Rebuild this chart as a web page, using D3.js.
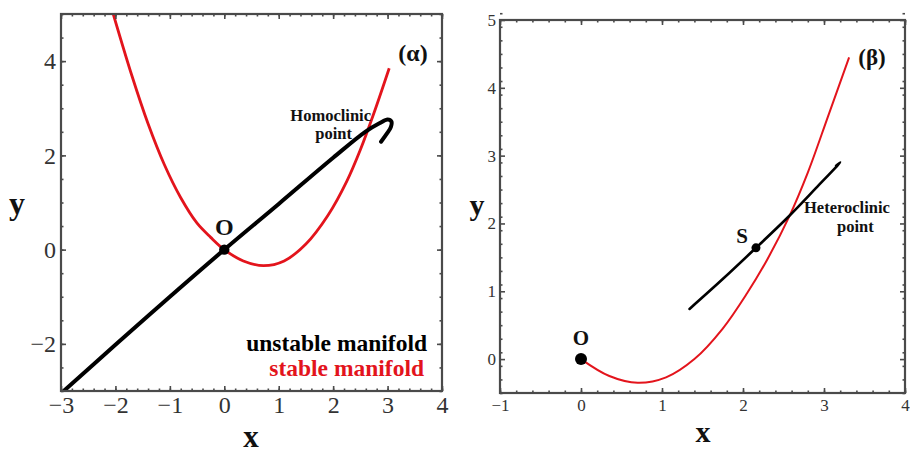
<!DOCTYPE html>
<html>
<head>
<meta charset="utf-8">
<script src="https://cdn.jsdelivr.net/npm/d3@7"></script>
<style>
  html, body { margin: 0; padding: 0; background: #fff; }
  svg { display: block; }
  text { font-family: "Liberation Serif", "Times New Roman", serif; }
</style>
</head>
<body>
<svg id="fig" width="910" height="455"></svg>
<script>
// ---------- Panel (α): homoclinic case ----------
const alphaXTicks = [-3, -2, -1, 0, 1, 2, 3, 4];
const alphaYTicks = [-2, 0, 2, 4];
// stable manifold (red)
const alphaStable = [
  [-2.04, 5.0], [-1.7, 3.7], [-1.4, 2.67], [-1.1, 1.8], [-0.8, 1.1],
  [-0.5, 0.56], [-0.25, 0.26], [0.0, 0.0], [0.35, -0.24], [0.72, -0.34],
  [1.1, -0.24], [1.5, 0.12], [1.9, 0.72], [2.25, 1.45], [2.5, 2.12],
  [2.75, 2.9], [3.03, 3.85]
];
// unstable manifold (black), ending in a fold
const alphaUnstable = [
  [-2.95, -3.0], [-2.0, -2.02], [-1.0, -1.0], [0.0, 0.0], [1.0, 0.97],
  [2.0, 1.95], [2.59, 2.5], [2.85, 2.68], [3.0, 2.76], [3.07, 2.72],
  [3.06, 2.6], [2.98, 2.45], [2.88, 2.29]
];

// ---------- Panel (β): heteroclinic case ----------
const betaXTicks = [-1, 0, 1, 2, 3, 4];
const betaYTicks = [0, 1, 2, 3, 4, 5];
const betaStable = [
  [0.0, 0.0], [0.35, -0.25], [0.7, -0.35], [1.05, -0.27], [1.4, 0.0],
  [1.75, 0.45], [2.05, 0.97], [2.3, 1.47], [2.57, 2.1], [2.8, 2.75],
  [3.05, 3.58], [3.31, 4.45]
];
const betaUnstable = [
  [1.34, 0.74], [1.75, 1.18], [2.16, 1.64], [2.57, 2.11], [2.9, 2.52],
  [3.2, 2.9], [3.15, 2.85]
];
const betaPointO = [0, 0];
const betaPointS = [2.16, 1.64];

const svg = d3.select("#fig");
const frameColor = "#4a4a4a";

function minorTicks(domain, step) {
  const out = [];
  const n = Math.round((domain[1] - domain[0]) / step);
  for (let i = 0; i <= n; i++) out.push(+(domain[0] + i * step).toFixed(6));
  return out;
}

function drawFrame(g, x, y, opts) {
  const [x0, x1] = x.range(), [y1, y0] = y.range();
  const w = x1 - x0, h = y1 - y0;
  const fmt = d => d < 0 ? "\u2212" + Math.abs(d) : String(d);
  const styleAxis = sel => {
    sel.select(".domain").remove();
    sel.selectAll(".tick line").attr("stroke", frameColor).attr("stroke-width", 1.6);
  };
  const xMinor = minorTicks(x.domain(), opts.xMinor);
  const yMinor = minorTicks(y.domain(), opts.yMinor);

  // minor ticks on all four sides (pointing inward)
  g.append("g").attr("transform", `translate(0,${y1})`)
    .call(d3.axisBottom(x).tickValues(xMinor).tickSize(-opts.minorLen).tickFormat("")).call(styleAxis);
  g.append("g").attr("transform", `translate(0,${y0})`)
    .call(d3.axisTop(x).tickValues(xMinor).tickSize(-opts.minorLen).tickFormat("")).call(styleAxis);
  g.append("g").attr("transform", `translate(${x0},0)`)
    .call(d3.axisLeft(y).tickValues(yMinor).tickSize(-opts.minorLen).tickFormat("")).call(styleAxis);
  g.append("g").attr("transform", `translate(${x1},0)`)
    .call(d3.axisRight(y).tickValues(yMinor).tickSize(-opts.minorLen).tickFormat("")).call(styleAxis);

  // major ticks with labels on bottom/left, bare on top/right
  const bx = g.append("g").attr("transform", `translate(0,${y1})`)
    .call(d3.axisBottom(x).tickValues(opts.xTicks).tickSize(-opts.majorLen).tickPadding(opts.xPad).tickFormat(fmt));
  styleAxis(bx);
  bx.selectAll("text").attr("font-size", opts.tickFont).attr("fill", "#333")
    .style("font-family", "'Liberation Serif', serif");
  const ly = g.append("g").attr("transform", `translate(${x0},0)`)
    .call(d3.axisLeft(y).tickValues(opts.yTicks).tickSize(-opts.majorLen).tickPadding(opts.yPad).tickFormat(fmt));
  styleAxis(ly);
  ly.selectAll("text").attr("font-size", opts.tickFont).attr("fill", "#333")
    .style("font-family", "'Liberation Serif', serif");
  g.append("g").attr("transform", `translate(0,${y0})`)
    .call(d3.axisTop(x).tickValues(opts.xTicks).tickSize(-opts.majorLen).tickFormat("")).call(styleAxis);
  g.append("g").attr("transform", `translate(${x1},0)`)
    .call(d3.axisRight(y).tickValues(opts.yTicks).tickSize(-opts.majorLen).tickFormat("")).call(styleAxis);

  g.append("rect").attr("x", x0).attr("y", y0).attr("width", w).attr("height", h)
    .attr("fill", "none").attr("stroke", frameColor).attr("stroke-width", 2.2);
}

function label(g, txt, px, py, o) {
  return g.append("text").attr("x", px).attr("y", py)
    .attr("text-anchor", o.anchor || "middle")
    .attr("font-size", o.size).attr("font-weight", o.weight || "bold")
    .attr("fill", o.color || "#111").text(txt);
}

// ===== Panel (α) =====
{
  const x = d3.scaleLinear().domain([-3, 4]).range([61, 442]);
  const y = d3.scaleLinear().domain([-3, 5]).range([391, 14]);
  const g = svg.append("g");
  const line = d3.line().x(d => x(d[0])).y(d => y(d[1])).curve(d3.curveCatmullRom.alpha(0.5));

  g.append("defs").append("clipPath").attr("id", "clipA")
    .append("rect").attr("x", 61).attr("y", 14).attr("width", 381).attr("height", 377);

  const plot = g.append("g").attr("clip-path", "url(#clipA)");
  plot.append("path").datum(alphaStable).attr("d", line)
    .attr("fill", "none").attr("stroke", "#e3141c").attr("stroke-width", 2.8);
  plot.append("path").datum(alphaUnstable).attr("d", line)
    .attr("fill", "none").attr("stroke", "#000").attr("stroke-width", 4)
    .attr("stroke-linecap", "round").attr("stroke-linejoin", "round");
  plot.append("circle").attr("cx", x(0)).attr("cy", y(0)).attr("r", 5.2).attr("fill", "#000");

  drawFrame(g, x, y, {
    xTicks: alphaXTicks, yTicks: alphaYTicks, xMinor: 0.2, yMinor: 0.5,
    majorLen: 5, minorLen: 2.5, tickFont: 24, xPad: 5, yPad: 5
  });

  label(g, "O", x(0), 235, { size: 24 });
  label(g, "(\u03b1)", 413, 61, { size: 24 });
  label(g, "Homoclinic", 371, 121, { size: 16.5, anchor: "end" });
  label(g, "point", 352, 139, { size: 16.5, anchor: "end" });
  label(g, "unstable manifold", 427, 351, { size: 23.5, anchor: "end", color: "#000" });
  label(g, "stable manifold", 424, 376, { size: 23.5, anchor: "end", color: "#e3141c" });

  label(g, "x", 251, 447, { size: 31 });
  label(g, "y", 17, 214, { size: 32 });
}

// ===== Panel (β) =====
{
  const x = d3.scaleLinear().domain([-1, 4]).range([500, 905]);
  const y = d3.scaleLinear().domain([-0.5, 5]).range([393, 20]);
  const g = svg.append("g");
  const line = d3.line().x(d => x(d[0])).y(d => y(d[1])).curve(d3.curveCatmullRom.alpha(0.5));

  g.append("path").datum(betaStable).attr("d", line)
    .attr("fill", "none").attr("stroke", "#e3141c").attr("stroke-width", 2);
  g.append("path").datum(betaUnstable).attr("d", line)
    .attr("fill", "none").attr("stroke", "#000").attr("stroke-width", 2.6)
    .attr("stroke-linecap", "round").attr("stroke-linejoin", "round");
  g.append("circle").attr("cx", x(betaPointO[0])).attr("cy", y(betaPointO[1])).attr("r", 6).attr("fill", "#000");
  g.append("circle").attr("cx", x(betaPointS[0])).attr("cy", y(betaPointS[1])).attr("r", 4.5).attr("fill", "#000");

  drawFrame(g, x, y, {
    xTicks: betaXTicks, yTicks: betaYTicks, xMinor: 0.2, yMinor: 0.2,
    majorLen: 5, minorLen: 2.5, tickFont: 17, xPad: 6, yPad: 4
  });

  label(g, "O", x(0), 345, { size: 21 });
  label(g, "S", 742, 243, { size: 21 });
  label(g, "(\u03b2)", 872, 65, { size: 23 });
  label(g, "Heteroclinic", 804, 213, { size: 16.5, anchor: "start" });
  label(g, "point", 837, 232, { size: 16.5, anchor: "start" });

  label(g, "x", 703, 442, { size: 30 });
  label(g, "y", 477, 215, { size: 30 });
}
</script>
</body>
</html>
